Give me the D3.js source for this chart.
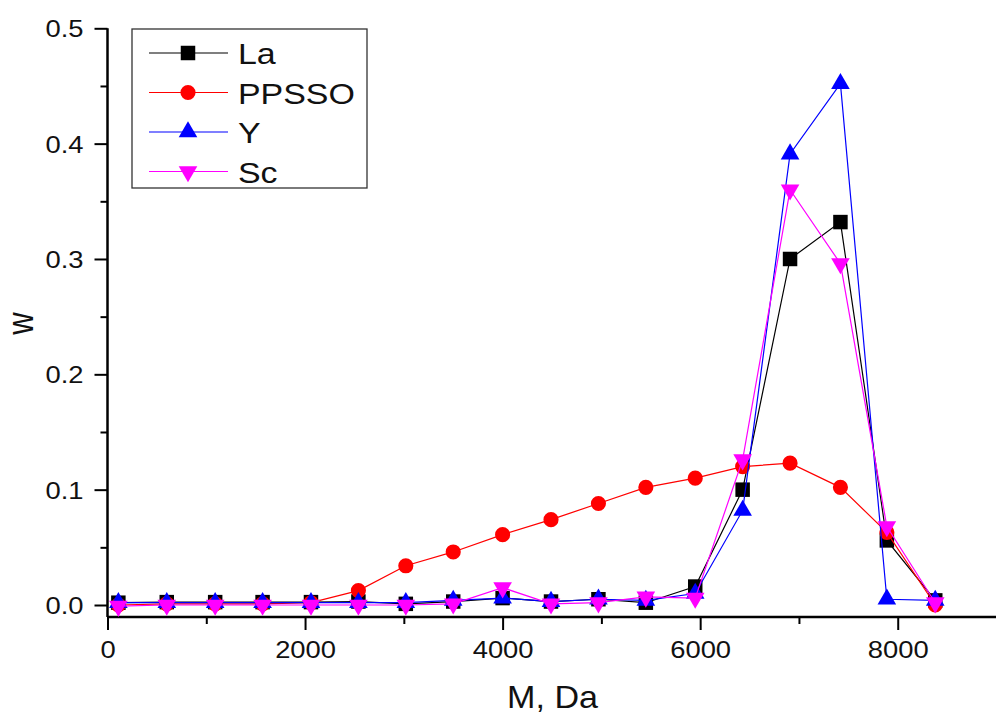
<!DOCTYPE html>
<html>
<head>
<meta charset="utf-8">
<script src="https://cdn.jsdelivr.net/npm/d3@7"></script>
<style>
  body { margin: 0; background: #fff; }
  svg { display: block; font-family: "Liberation Sans", Arial, sans-serif; }
</style>
</head>
<body>
<div id="vis"></div>
<script>
const frame_width = 996;
const frame_height = 714;

// molecular mass, Da
const masses = [110, 600, 1090, 1570, 2060, 2540, 3020, 3500, 4000, 4490, 4970, 5450, 5950, 6430, 6910, 7420, 7890, 8380];

const la_w    = [0.002, 0.0025, 0.0025, 0.0025, 0.0025, 0.003, 0.001, 0.003, 0.006, 0.003, 0.005, 0.002, 0.016, 0.100, 0.300, 0.332, 0.056, 0.004];
const ppsso_w = [0.000, 0.001, 0.001, 0.001, 0.002, 0.0125, 0.034, 0.046, 0.061, 0.074, 0.088, 0.102, 0.110, 0.120, 0.123, 0.102, 0.063, 0.000];
const y_w     = [0.002, 0.002, 0.002, 0.002, 0.002, 0.002, 0.002, 0.004, 0.006, 0.003, 0.005, 0.004, 0.010, 0.082, 0.391, 0.452, 0.005, 0.004];
const sc_w    = [-0.001, 0.000, 0.000, 0.000, 0.000, 0.000, 0.000, 0.001, 0.015, 0.001, 0.002, 0.007, 0.006, 0.126, 0.360, 0.296, 0.068, 0.002];

const series_names = ["La", "PPSSO", "Y", "Sc"];
const x_ticks = [0, 2000, 4000, 6000, 8000];
const y_ticks = [0.0, 0.1, 0.2, 0.3, 0.4, 0.5];

const colors = {La: "#000000", PPSSO: "#ff0000", Y: "#0000ff", Sc: "#ff00ff"};
const shapes = {La: "square", PPSSO: "circle", Y: "up", Sc: "down"};
const sx_tick = 1.14; // text in the picture is stretched sideways
const sx_legend = 1.17;

const series = [
    {name: "La", values: la_w},
    {name: "PPSSO", values: ppsso_w},
    {name: "Y", values: y_w},
    {name: "Sc", values: sc_w}
];

const svg = d3.select("#vis")
    .append("svg")
        .attr("width", frame_width)
        .attr("height", frame_height);

svg.append("rect").attr("width", frame_width).attr("height", frame_height).attr("fill", "#fff");

const x_scale = d3.scaleLinear().domain([0, 9000]).range([107.5, 996.5]);
const y_scale = d3.scaleLinear().domain([-0.0104, 0.5]).range([617, 28.3]);

function marker(sel, shape, color) {
    if (shape === "square") {
        sel.append("path").attr("d", d3.symbol(d3.symbolSquare, 210)());
    } else if (shape === "circle") {
        sel.append("path").attr("d", d3.symbol(d3.symbolCircle, 180)());
    } else {
        sel.append("path").attr("d", d3.symbol(d3.symbolTriangle, 150)())
            .attr("transform", shape === "down" ? "rotate(180)" : null);
    }
    sel.selectAll("path").attr("fill", color);
}

// minor ticks
svg.append("g")
    .attr("transform", "translate(0," + y_scale.range()[0] + ")")
    .call(d3.axisBottom(x_scale).tickValues(d3.range(1000, 9000, 2000)).tickSize(7).tickFormat(""))
    .call(g => g.select(".domain").remove())
    .selectAll("line").attr("stroke-width", 2);

svg.append("g")
    .attr("transform", "translate(" + x_scale.range()[0] + ",0)")
    .call(d3.axisLeft(y_scale).tickValues(d3.range(0.05, 0.5, 0.1)).tickSize(7).tickFormat(""))
    .call(g => g.select(".domain").remove())
    .selectAll("line").attr("stroke-width", 2);

// main axes
const x_axis = svg.append("g")
    .attr("transform", "translate(0," + y_scale.range()[0] + ")")
    .call(d3.axisBottom(x_scale).tickValues(x_ticks).tickSize(13).tickSizeOuter(0).tickFormat(d3.format("d")));
x_axis.select(".domain").attr("d", "M" + x_scale.range()[0] + ",0H" + frame_width).attr("stroke-width", 2.5);
x_axis.selectAll(".tick line").attr("stroke-width", 2);
x_axis.selectAll(".tick text")
    .attr("font-size", 24).attr("fill", "#111")
    .attr("y", 0).attr("dy", 0)
    .attr("transform", "translate(0,41) scale(" + sx_tick + ",1)");

const y_axis = svg.append("g")
    .attr("transform", "translate(" + x_scale.range()[0] + ",0)")
    .call(d3.axisLeft(y_scale).tickValues(y_ticks).tickSize(13).tickSizeOuter(0).tickFormat(d3.format(".1f")));
y_axis.select(".domain").attr("d", "M0," + y_scale(0.5) + "V" + y_scale.range()[0]).attr("stroke-width", 2.5);
y_axis.selectAll(".tick line").attr("stroke-width", 2);
y_axis.selectAll(".tick text")
    .attr("font-size", 24).attr("fill", "#111")
    .attr("x", 0).attr("dy", "0.35em")
    .attr("transform", "translate(-24,0) scale(" + sx_tick + ",1)");

// axis titles
svg.append("text")
    .attr("transform", "translate(552.5,708) scale(1.1,1)")
    .attr("text-anchor", "middle")
    .attr("font-size", 31)
    .attr("fill", "#111")
    .text("M, Da");

svg.append("text")
    .attr("transform", "translate(33,323.5) scale(1.17,1) rotate(-90)")
    .attr("text-anchor", "middle")
    .attr("font-size", 31)
    .attr("fill", "#111")
    .text("w");

// series
const line = d3.line()
    .x((d, i) => x_scale(masses[i]))
    .y(d => y_scale(d));

series.forEach(s => {
    const g = svg.append("g");
    g.append("path")
        .datum(s.values)
        .attr("d", line)
        .attr("fill", "none")
        .attr("stroke", colors[s.name])
        .attr("stroke-width", 1.2);
    g.selectAll(".pt")
        .data(s.values)
        .enter()
        .append("g")
            .attr("class", "pt")
            .attr("transform", (d, i) => "translate(" + x_scale(masses[i]) + "," + y_scale(d) + ")")
            .each(function() { marker(d3.select(this), shapes[s.name], colors[s.name]); });
});

// legend
const legend = svg.append("g");
legend.append("rect")
    .attr("x", 132).attr("y", 29)
    .attr("width", 235).attr("height", 159)
    .attr("fill", "#fff")
    .attr("stroke", "#333")
    .attr("stroke-width", 1.3);

series_names.forEach((name, i) => {
    const cy = 53 + i * 39.5;
    const row = legend.append("g");
    row.append("line")
        .attr("x1", 149).attr("x2", 228)
        .attr("y1", cy).attr("y2", cy)
        .attr("stroke", colors[name])
        .attr("stroke-width", 1.2);
    const m = row.append("g").attr("transform", "translate(188," + cy + ")");
    marker(m, shapes[name], colors[name]);
    row.append("text")
        .attr("transform", "translate(238," + (cy + 11) + ") scale(" + sx_legend + ",1)")
        .attr("font-size", 29)
        .attr("fill", "#111")
        .text(name);
});
</script>
</body>
</html>
